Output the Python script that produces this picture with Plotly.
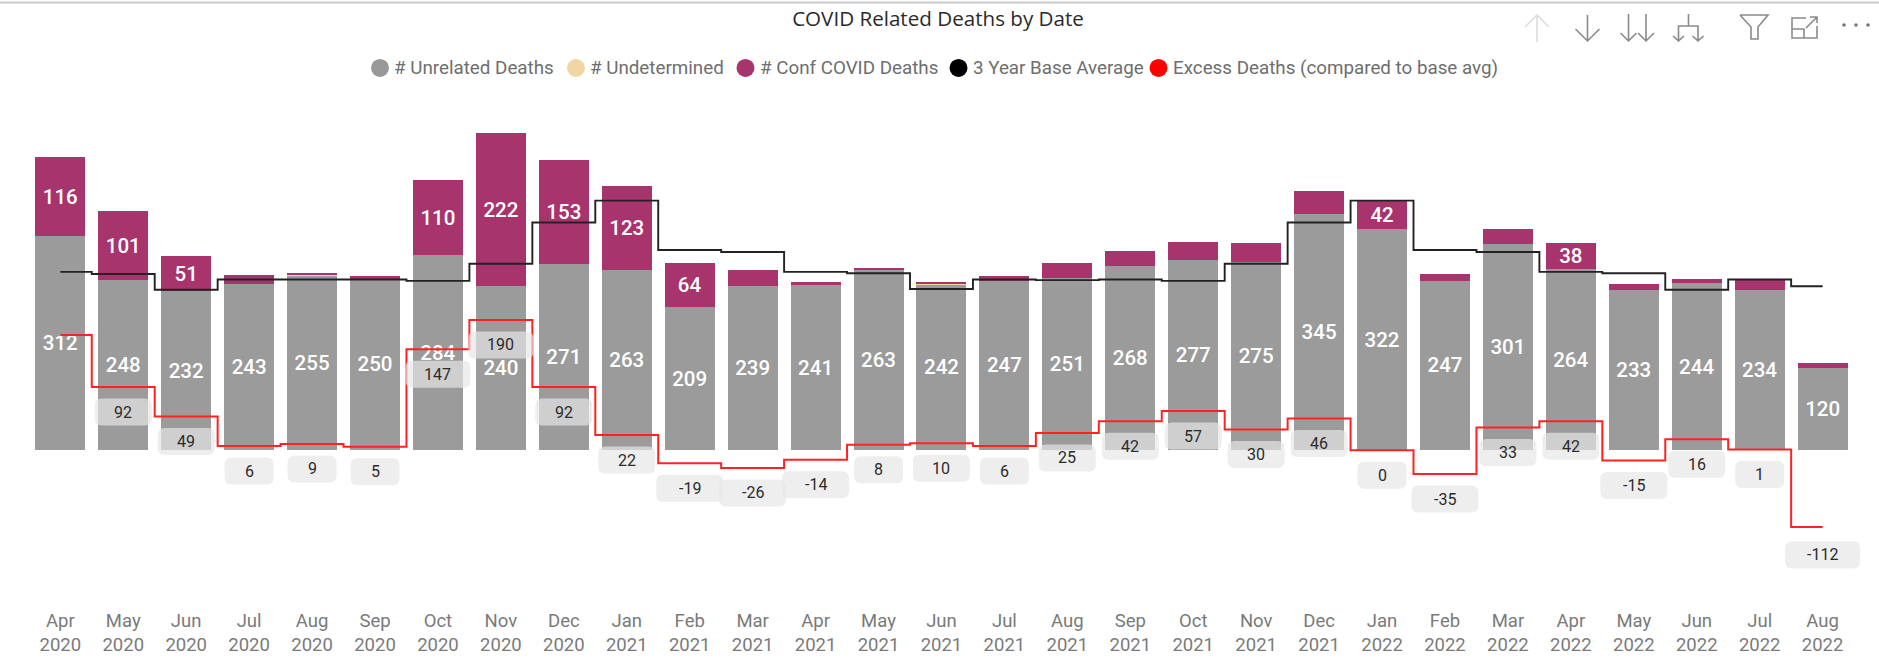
import plotly.graph_objects as go

months = ["Apr<br>2020","May<br>2020","Jun<br>2020","Jul<br>2020","Aug<br>2020","Sep<br>2020","Oct<br>2020","Nov<br>2020","Dec<br>2020",
          "Jan<br>2021","Feb<br>2021","Mar<br>2021","Apr<br>2021","May<br>2021","Jun<br>2021","Jul<br>2021","Aug<br>2021","Sep<br>2021","Oct<br>2021","Nov<br>2021","Dec<br>2021",
          "Jan<br>2022","Feb<br>2022","Mar<br>2022","Apr<br>2022","May<br>2022","Jun<br>2022","Jul<br>2022","Aug<br>2022"]
unrelated = [312,248,232,243,255,250,284,240,271,263,209,239,241,263,242,247,251,268,277,275,345,322,247,301,264,233,244,234,120]
undetermined = [0,0,0,0,1,0,0,0,0,0,0,0,0,1,1,0,0,0,0,0,0,0,0,0,0,0,0,0,0]
conf_covid = [116,101,51,12,2,4,110,222,153,123,64,24,5,2,2,7,22,23,27,27,33,42,10,21,38,10,6,15,7]
base_avg = [260,257,234,249,249,249,247,272,332,364,292,289,260,258,235,249,248,249,247,272,332,364,292,289,260,258,234,249,239]
excess = [168,92,49,6,9,5,147,190,92,22,-19,-26,-14,8,10,6,25,42,57,30,46,0,-35,33,42,-15,16,1,-112]
excess_labels = ["","92","49","6","9","5","147","190","92","22","-19","-26","-14","8","10","6","25","42","57","30","46","0","-35","33","42","-15","16","1","-112"]
unrelated_labels = [str(v) for v in unrelated]
conf_labels = [str(v) if v >= 35 else "" for v in conf_covid]
legend_names = ["# Unrelated Deaths","# Undetermined","# Conf COVID Deaths","3 Year Base Average","Excess Deaths (compared to base avg)"]

GRAY, TAN, PURPLE = "#9B9B9B", "#EFD6A3", "#A8346D"
W, H, PLOT_H = 1879, 669, 607.5
PX_PER_UNIT = 0.686
BASE_Y = 450.5
X0, STEP = 60.3, 62.94

def py(y):
    return 1 - y / PLOT_H
def px(x):
    return x / W

x = list(range(len(months)))
fig = go.Figure()
for name, vals, color, labels in [(legend_names[0], unrelated, GRAY, unrelated_labels),
                                  (legend_names[1], undetermined, TAN, None),
                                  (legend_names[2], conf_covid, PURPLE, conf_labels)]:
    fig.add_trace(go.Bar(x=x, y=vals, name=name, marker=dict(color=color, line_width=0), width=0.795,
                         text=labels, textposition="inside" if labels else "none",
                         insidetextanchor="middle", textangle=0, constraintext="none",
                         insidetextfont=dict(family="Roboto", size=20.5, color="white", weight=500),
                         showlegend=False))
fig.add_trace(go.Scatter(x=x, y=base_avg, name=legend_names[3], mode="lines",
                         line=dict(color="#222222", width=1.9, shape="hvh"), showlegend=False))
fig.add_trace(go.Scatter(x=x, y=excess, name=legend_names[4], mode="lines",
                         line=dict(color="#FF2222", width=2, shape="hvh"), showlegend=False))

shapes, annos = [], []

def rounded(xc_w, yc, h, r=7):
    w = xc_w / 2
    t, b = yc + h / 2, yc - h / 2
    return (f"M {-w+r} {t} L {w-r} {t} Q {w} {t} {w} {t-r} L {w} {b+r} Q {w} {b} {w-r} {b} "
            f"L {-w+r} {b} Q {-w} {b} {-w} {b+r} L {-w} {t-r} Q {-w} {t} {-w+r} {t} Z")

for i, (v, lab) in enumerate(zip(excess, excess_labels)):
    if not lab:
        continue
    bw = 41 + 8 * len(lab) + (2 if lab.startswith("-") else 0)
    off = 28 if v < -100 else 25
    shapes.append(dict(type="path", xref="x", yref="y", xsizemode="pixel", ysizemode="pixel",
                       xanchor=i, yanchor=v, path=rounded(bw, -off, 27),
                       fillcolor="rgba(230,230,230,0.69)", line_width=0, layer="above"))
    annos.append(dict(x=i, y=v, xref="x", yref="y", text=lab, showarrow=False, yshift=-off,
                      font=dict(family="Roboto", size=16, color="#2b2b2b"),
                      xanchor="center", yanchor="middle"))

# legend row
legend_x = [380, 576, 745.5, 958.5, 1158.5]
legend_c = ["#999999", TAN, PURPLE, "#000000", "#FF0000"]
for n, cx, c in zip(legend_names, legend_x, legend_c):
    shapes.append(dict(type="circle", xref="paper", yref="paper", x0=px(cx-9), x1=px(cx+9),
                       y0=py(68+9), y1=py(68-9), fillcolor=c, line_width=0))
    annos.append(dict(x=px(cx+12), y=py(68.5), xref="paper", yref="paper", text=n, showarrow=False,
                      xanchor="left", yanchor="middle", font=dict(family="Roboto", size=18.8, color="#6e6e6e")))

# frame line and visual-header icons
shapes.append(dict(type="line", xref="paper", yref="paper", x0=0, x1=1, y0=py(2.5), y1=py(2.5),
                   line=dict(color="#c9c9c9", width=2)))

def icon(points, color="#8a8a8a", w=1.6):
    d = ""
    for seg in points:
        d += "M " + " L ".join(f"{px(a)} {py(b)}" for a, b in seg) + " "
    shapes.append(dict(type="path", xref="paper", yref="paper", path=d, line=dict(color=color, width=w)))

def arrow_down(x, y0, y1, hw):
    return [[(x, y0), (x, y1)], [(x-hw, y1-hw), (x, y1), (x+hw, y1-hw)]]

icon([[(1537, 15), (1537, 42)], [(1525, 27), (1537, 15), (1549, 27)]], color="#dcdcdc")
icon(arrow_down(1587.5, 15, 41, 12))
icon(arrow_down(1628.5, 14, 41, 8) + arrow_down(1646, 14, 41, 8))
icon([[(1688.5, 14), (1688.5, 26)], [(1678.5, 41), (1678.5, 26), (1698, 26), (1698, 41)]]
     + [[(1673, 36), (1678.5, 41), (1684, 36)], [(1692.5, 36), (1698, 41), (1703.5, 36)]])
icon([[(1740, 15), (1768, 15), (1758, 27), (1758, 39), (1751, 39), (1751, 27), (1740, 15)]])
icon([[(1806, 18), (1792, 18), (1792, 38), (1817, 38), (1817, 26)], [(1792, 29), (1804, 29), (1804, 38)],
      [(1806, 28), (1817, 17)], [(1810, 17), (1817, 17), (1817, 23)]])
for dot in (1844, 1856, 1868):
    shapes.append(dict(type="circle", xref="paper", yref="paper", x0=px(dot-1.8), x1=px(dot+1.8),
                       y0=py(26.8), y1=py(23.2), fillcolor="#777777", line_width=0))

fig.update_layout(
    width=W, height=H, autosize=False, barmode="stack", plot_bgcolor="white", paper_bgcolor="white",
    margin=dict(l=0, r=0, t=0, b=H - PLOT_H), showlegend=False,
    title=dict(text="COVID Related Deaths by Date", x=938 / W, xanchor="center", y=1 - 19 / H, yanchor="middle",
               font=dict(family="Open Sans", size=20.6, color="#2a2a2a")),
    xaxis=dict(range=[-X0 / STEP, (W - X0) / STEP], tickmode="array", tickvals=x, ticktext=months, showgrid=False,
               zeroline=False, showline=False, ticks="", tickangle=0,
               tickfont=dict(family="Roboto", size=18.5, color="#7a7a7a")),
    yaxis=dict(range=[(BASE_Y - PLOT_H) / PX_PER_UNIT, BASE_Y / PX_PER_UNIT], visible=False),
    shapes=shapes, annotations=annos,
)
fig.write_html("out.html", config={"displayModeBar": False},
               post_script="document.body.style.margin='0';document.body.style.overflow='hidden';")
